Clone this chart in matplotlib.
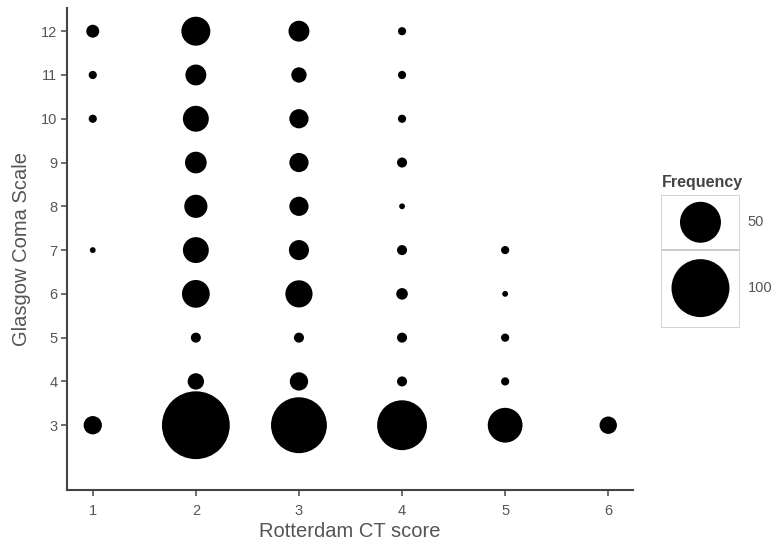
import numpy as np
import matplotlib
matplotlib.use("Agg")
import matplotlib.pyplot as plt
from matplotlib.patches import Rectangle

plt.rcParams['font.family'] = ['Liberation Sans', 'DejaVu Sans']

# data: Rotterdam CT score (x), Glasgow Coma Scale (y), frequency
ct_score = [1, 1, 1, 1, 1,
            2, 2, 2, 2, 2, 2, 2, 2, 2, 2,
            3, 3, 3, 3, 3, 3, 3, 3, 3, 3,
            4, 4, 4, 4, 4, 4, 4, 4, 4, 4,
            5, 5, 5, 5, 5,
            6]
gcs = [12, 11, 10, 7, 3,
       12, 11, 10, 9, 8, 7, 6, 5, 4, 3,
       12, 11, 10, 9, 8, 7, 6, 5, 4, 3,
       12, 11, 10, 9, 8, 7, 6, 5, 4, 3,
       7, 6, 5, 4, 3,
       3]
freq = [5, 2, 2, 1, 10,
        25, 13, 20, 14, 16, 20, 23, 3, 8, 137,
        13, 7, 11, 11, 11, 12, 22, 3, 10, 93,
        2, 2, 2, 3, 1, 3, 4, 3, 3, 74,
        2, 1, 2, 2, 36,
        9]
legend_freq = [50, 100]

grey = '#555555'
scale = 17.4  # marker area (pt^2) per unit of frequency

fig = plt.figure(figsize=(7.78, 5.51), dpi=100)
ax = fig.add_axes([0.0861, 0.1107, 0.7275, 0.8748])
ax.scatter(ct_score, gcs, s=np.array(freq) * scale, c='black', linewidths=0)
ax.set_xlim(0.75, 6.24)
ax.set_ylim(1.52, 12.53)
ax.set_xticks(range(1, 7))
ax.set_yticks(range(3, 13))
for s in ['top', 'right']:
    ax.spines[s].set_visible(False)
for s in ['left', 'bottom']:
    ax.spines[s].set_color('#444444')
    ax.spines[s].set_linewidth(1.5)
ax.tick_params(colors=grey, labelsize=10.5, length=4, width=1.2)
ax.tick_params(axis='y', pad=3)
ax.tick_params(axis='x', pad=6)
ax.set_xlabel('Rotterdam CT score', fontsize=14.5, color=grey, labelpad=3)
ax.set_ylabel('Glasgow Coma Scale', fontsize=14.5, color=grey, labelpad=7)

# size legend
lax = fig.add_axes([0.8496, 0.4047, 0.1015, 0.2414])
lax.set_xlim(0, 1)
lax.set_ylim(0, 1)
lax.axis('off')
lax.add_patch(Rectangle((0, 0.586), 1, 0.414, fill=False, ec='#cccccc', lw=1.2))
lax.add_patch(Rectangle((0, 0), 1, 0.586, fill=False, ec='#cccccc', lw=1.2))
ys = [0.795, 0.30]
lax.scatter([0.5, 0.5], ys, s=np.array(legend_freq) * scale, c='black', linewidths=0)
for yy, f in zip(ys, legend_freq):
    lax.text(1.1, yy, str(f), fontsize=10.5, color=grey, va='center', ha='left')
lax.text(0.52, 1.04, 'Frequency', fontsize=11.5, fontweight='bold', color='#444444',
         ha='center', va='bottom')

plt.savefig('out.png', dpi=100)
